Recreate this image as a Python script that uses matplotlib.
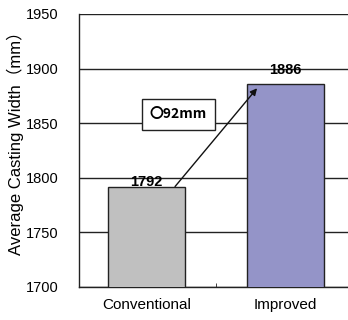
import matplotlib
matplotlib.use("Agg")
import matplotlib.pyplot as plt

categories = ["Conventional", "Improved"]
widths = [1792, 1886]
bar_colors = ["#c0c0c0", "#9494c8"]
yticks = [1700, 1750, 1800, 1850, 1900, 1950]
diff_label = "〇92mm"

plt.rcParams["font.family"] = ["Liberation Sans", "Noto Sans CJK JP", "DejaVu Sans"]

fig = plt.figure(figsize=(3.48, 3.20), dpi=100)
# axes extends past the right edge of the figure
ax = fig.add_axes([79 / 348, 33 / 320, 278 / 348, 273 / 320])

x = range(len(categories))
ax.bar(x, widths, width=0.55, color=bar_colors, edgecolor="#222222",
       linewidth=1.0, zorder=3)
ax.set_xlim(-0.486, 1.514)
ax.set_ylim(1700, 1950)
ax.set_yticks(yticks)
ax.yaxis.grid(True, color="#222222", linewidth=1.0, zorder=0)
ax.set_axisbelow(True)
ax.tick_params(axis="y", length=0, labelsize=10.5, pad=15)
ax.set_xticks([0.5], minor=True)
ax.set_xticks(list(x))
ax.set_xticklabels(categories, fontsize=11)
ax.tick_params(axis="x", which="major", length=0, pad=8)
ax.tick_params(axis="x", which="minor", length=3, direction="in",
               color="#222222")
for s in ["top", "right"]:
    ax.spines[s].set_visible(False)
for s in ["left", "bottom"]:
    ax.spines[s].set_color("#222222")
    ax.spines[s].set_linewidth(1.0)
ax.set_ylabel("Average Casting Width（mm）", fontsize=12)
ax.yaxis.set_label_coords(-0.198, 0.54)

# value labels
ax.annotate(str(widths[0]), (0, widths[0]), xytext=(0, -2),
            textcoords="offset points", ha="center", va="bottom",
            fontsize=10.5, fontweight="bold", zorder=5)
ax.annotate(str(widths[1]), (1, widths[1]), xytext=(0, 5),
            textcoords="offset points", ha="center", va="bottom",
            fontsize=10.5, fontweight="bold", zorder=5)

# arrow showing the increase
ax.annotate("", xy=(0.795, widths[1] - 4), xytext=(0.205, widths[0]),
            arrowprops=dict(arrowstyle="-|>", color="#111111", lw=1.0,
                            mutation_scale=10, shrinkA=0, shrinkB=0),
            zorder=6)

# difference callout
ax.text(0.23, 1858, diff_label, ha="center", va="center",
        fontsize=10, fontweight="bold", family=["Noto Sans CJK JP"],
        bbox=dict(boxstyle="square,pad=0.6", facecolor="white",
                  edgecolor="#222222", linewidth=1.0), zorder=7)

fig.savefig("out.png", dpi=100)
